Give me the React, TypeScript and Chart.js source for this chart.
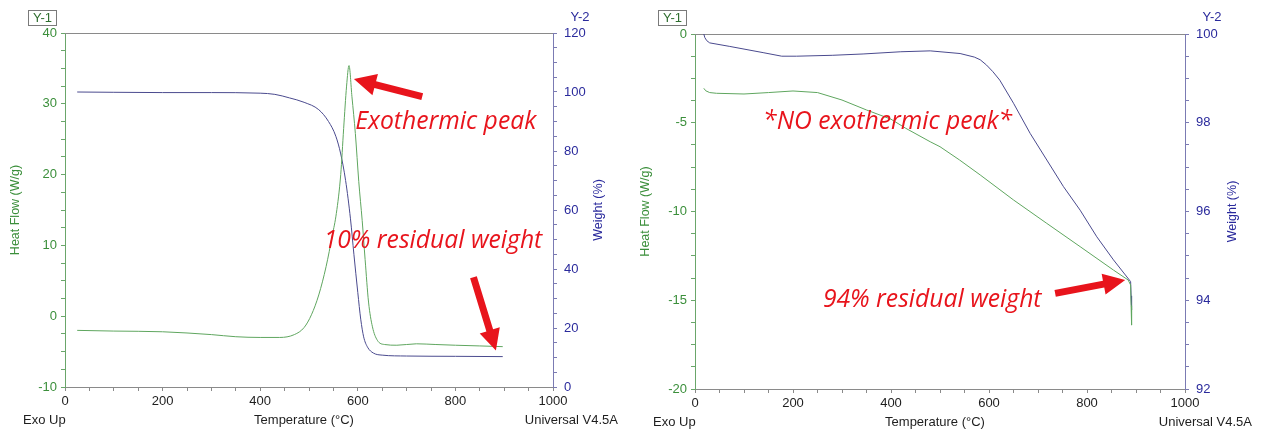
import React, { useEffect, useRef } from "react";
import { Chart, registerables } from "chart.js";

Chart.register(...registerables);

// ---------- Left panel data (sample with exothermic peak) ----------
const leftHeatTemp = [25, 100, 200, 300, 350, 400, 440, 470, 490, 505, 520, 535, 548, 556, 565, 571, 577, 582, 588, 595, 602, 609, 615, 622, 630, 640, 655, 680, 720, 760, 800, 850, 897];
const leftHeatFlow = [-2.0, -2.1, -2.2, -2.6, -2.9, -3.0, -3.0, -2.6, -1.6, 0.2, 3.0, 7.0, 11.5, 14.5, 20.0, 26.5, 32.5, 35.4, 31.0, 25.8, 19.0, 13.5, 8.0, 2.0, -1.5, -3.4, -4.0, -4.1, -3.9, -4.0, -4.1, -4.2, -4.3];
const leftWeightTemp = [25, 100, 200, 300, 400, 430, 460, 490, 520, 540, 555, 565, 575, 585, 592, 600, 606, 612, 620, 632, 650, 700, 800, 897];
const leftWeight = [100, 99.9, 99.8, 99.8, 99.6, 99.2, 98.0, 96.5, 94.0, 90.0, 85.0, 79.0, 70.0, 57.0, 45.0, 32.0, 23.0, 17.0, 13.5, 11.5, 10.8, 10.5, 10.4, 10.3];

// ---------- Right panel data (no exothermic peak) ----------
const rightHeatTemp = [18, 22, 30, 44, 100, 150, 200, 250, 300, 350, 400, 430, 480, 500, 540, 582, 650, 718, 786, 854, 884, 889, 890, 891];
const rightHeatFlow = [-3.06, -3.2, -3.3, -3.34, -3.38, -3.3, -3.21, -3.3, -3.72, -4.28, -4.8, -5.31, -6.07, -6.35, -7.1, -7.94, -9.35, -10.67, -11.98, -13.3, -13.86, -14.14, -15.3, -16.4];
const rightWeightTemp = [18, 20, 24, 30, 71, 139, 177, 207, 280, 343, 420, 480, 541, 570, 582, 595, 608, 622, 650, 684, 718, 752, 786, 820, 854, 889, 890, 891];
const rightWeight = [100, 99.92, 99.85, 99.8, 99.72, 99.58, 99.5, 99.5, 99.52, 99.55, 99.6, 99.62, 99.56, 99.48, 99.42, 99.3, 99.15, 98.96, 98.44, 97.76, 97.16, 96.56, 96.03, 95.43, 94.91, 94.42, 94.1, 93.78];

// ---------- Axis tick settings ----------
const xRange = [0, 1000];
const xStep = 50;
const xMajor = 200;
const leftY1Range = [-10, 40];
const leftY2Range = [0, 120];
const rightY1Range = [-20, 0];
const rightY2Range = [92, 100];

// ---------- Text ----------
const xTitle = "Temperature (°C)";
const y1Title = "Heat Flow (W/g)";
const y2Title = "Weight (%)";

type Note = { text: string; x: number; y: number };
type Arrow = { x1: number; y1: number; x2: number; y2: number; head: number; headW: number; shaft: number };

const leftNotes: Note[] = [
  { text: "Exothermic peak", x: 595, y: 27.5 },
  { text: "10% residual weight", x: 530, y: 10.6 },
];
const leftArrows: Arrow[] = [
  { x1: 732, y1: 31.0, x2: 592, y2: 33.5, head: 22, headW: 22, shaft: 7 },
  { x1: 837, y1: 5.5, x2: 883, y2: -4.84, head: 21, headW: 21, shaft: 7 },
];
const rightNotes: Note[] = [
  { text: "*NO exothermic peak*", x: 139, y: -4.94 },
  { text: "94% residual weight", x: 261, y: -14.99 },
];
const rightArrows: Arrow[] = [
  { x1: 735, y1: -14.61, x2: 878, y2: -13.86, head: 22, headW: 21, shaft: 7 },
];

const GREEN_TEXT = "#3b8f3b";
const BLUE_TEXT = "#2a2a9c";
const GREEN_LINE = "#5fa65f";
const BLUE_LINE = "#4a4a8e";
const GREEN_AXIS = "#6aa66a";
const BLUE_AXIS = "#7b7bb3";
const GRAY_AXIS = "#8a8a8a";
const RED = "#e8141c";
const FONT = "'Liberation Sans', Arial, sans-serif";
const NOTE_FONT = "italic 24.7px 'Open Sans', 'Liberation Sans', sans-serif";

interface PanelSpec {
  id: string;
  width: number;
  height: number;
  area: { left: number; right: number; top: number; bottom: number };
  heatT: number[];
  heat: number[];
  wT: number[];
  w: number[];
  y1Range: number[];
  y1Step: number;
  y1Major: number;
  y2Range: number[];
  y2Step: number;
  y2Major: number;
  notes: Note[];
  arrows: Arrow[];
  footY: number;
  y2x: number;
  y2TitleX: number;
  universalRight: number;
  smooth: boolean;
}

const isMajor = (v: number, m: number) => Math.abs(v / m - Math.round(v / m)) < 1e-6;

function drawArrow(ctx: CanvasRenderingContext2D, x1: number, y1: number, x2: number, y2: number, a: Arrow) {
  const ang = Math.atan2(y2 - y1, x2 - x1);
  const len = Math.hypot(x2 - x1, y2 - y1);
  ctx.save();
  ctx.translate(x1, y1);
  ctx.rotate(ang);
  ctx.beginPath();
  ctx.moveTo(0, -a.shaft / 2);
  ctx.lineTo(len - a.head, -a.shaft / 2);
  ctx.lineTo(len - a.head, -a.headW / 2);
  ctx.lineTo(len, 0);
  ctx.lineTo(len - a.head, a.headW / 2);
  ctx.lineTo(len - a.head, a.shaft / 2);
  ctx.lineTo(0, a.shaft / 2);
  ctx.closePath();
  ctx.fillStyle = RED;
  ctx.fill();
  ctx.restore();
}

function makePlugin(spec: PanelSpec) {
  return {
    id: "decor_" + spec.id,
    beforeDatasetsDraw(chart: any) {
      const { ctx, chartArea } = chart;
      ctx.save();
      ctx.strokeStyle = GRAY_AXIS;
      ctx.lineWidth = 1;
      ctx.beginPath();
      ctx.moveTo(chartArea.left, chartArea.top + 0.5);
      ctx.lineTo(chartArea.right, chartArea.top + 0.5);
      ctx.stroke();
      ctx.restore();
    },
    afterDraw(chart: any) {
      const { ctx, chartArea } = chart;
      const xs = chart.scales.x;
      const ys = chart.scales.y;
      ctx.save();
      for (const a of spec.arrows) {
        drawArrow(ctx, xs.getPixelForValue(a.x1), ys.getPixelForValue(a.y1), xs.getPixelForValue(a.x2), ys.getPixelForValue(a.y2), a);
      }
      ctx.font = NOTE_FONT;
      ctx.fillStyle = RED;
      ctx.textAlign = "left";
      ctx.textBaseline = "middle";
      for (const n of spec.notes) {
        ctx.fillText(n.text, xs.getPixelForValue(n.x), ys.getPixelForValue(n.y));
      }
      // Y-1 box
      ctx.strokeStyle = "#7a7a7a";
      ctx.lineWidth = 1;
      ctx.strokeRect(28.5, 10.5, 28, 15);
      ctx.font = `13px ${FONT}`;
      ctx.fillStyle = "#2f6e2f";
      ctx.textAlign = "center";
      ctx.textBaseline = "middle";
      ctx.fillText("Y-1", 42.5, 18.5);
      // Y-2
      ctx.fillStyle = BLUE_TEXT;
      ctx.fillText("Y-2", spec.y2x, 17.5);
      // footer
      ctx.fillStyle = "#1e1e1e";
      ctx.textAlign = "left";
      ctx.fillText("Exo Up", 23, spec.footY);
      ctx.textAlign = "center";
      ctx.fillText(xTitle, (chartArea.left + chartArea.right) / 2 - 5, spec.footY);
      ctx.textAlign = "right";
      ctx.fillText("Universal V4.5A", spec.universalRight, spec.footY);
      // axis titles
      const cy = (chartArea.top + chartArea.bottom) / 2;
      ctx.font = `12.5px ${FONT}`;
      ctx.textAlign = "center";
      ctx.save();
      ctx.translate(16, cy);
      ctx.rotate(-Math.PI / 2);
      ctx.fillStyle = GREEN_TEXT;
      ctx.fillText(y1Title, 0, 0);
      ctx.restore();
      ctx.save();
      ctx.translate(spec.y2TitleX, cy);
      ctx.rotate(-Math.PI / 2);
      ctx.fillStyle = BLUE_TEXT;
      ctx.fillText(y2Title, 0, 0);
      ctx.restore();
      ctx.restore();
    },
  };
}

function buildConfig(spec: PanelSpec): any {
  const { area, width, height } = spec;
  const heatData = spec.heatT.map((t, i) => ({ x: t, y: spec.heat[i] }));
  const weightData = spec.wT.map((t, i) => ({ x: t, y: spec.w[i] }));
  const interp = spec.smooth ? { cubicInterpolationMode: "monotone" } : { tension: 0 };
  return {
    type: "line",
    data: {
      datasets: [
        {
          label: "Heat Flow",
          data: heatData,
          yAxisID: "y",
          borderColor: GREEN_LINE,
          borderWidth: 1,
          pointRadius: 0,
          fill: false,
          ...interp,
        },
        {
          label: "Weight",
          data: weightData,
          yAxisID: "y2",
          borderColor: BLUE_LINE,
          borderWidth: 1,
          pointRadius: 0,
          fill: false,
          ...interp,
        },
      ],
    },
    options: {
      responsive: false,
      animation: false,
      devicePixelRatio: 1,
      layout: { padding: { top: area.top, left: 0, right: 0, bottom: 0 } },
      plugins: { legend: { display: false }, tooltip: { enabled: false }, title: { display: false } },
      events: [],
      scales: {
        x: {
          type: "linear",
          min: xRange[0],
          max: xRange[1],
          afterFit: (s: any) => {
            s.height = height - area.bottom;
          },
          ticks: {
            stepSize: xStep,
            autoSkip: false,
            maxRotation: 0,
            padding: 3,
            color: "#1e1e1e",
            font: { family: FONT, size: 13 },
            callback: (v: number) => (isMajor(v, xMajor) ? String(v) : ""),
          },
          grid: { drawOnChartArea: false, drawTicks: true, tickLength: 4, color: GRAY_AXIS },
          border: { display: true, color: GRAY_AXIS },
        },
        y: {
          type: "linear",
          position: "left",
          min: spec.y1Range[0],
          max: spec.y1Range[1],
          afterFit: (s: any) => {
            s.width = area.left;
          },
          ticks: {
            stepSize: spec.y1Step,
            autoSkip: false,
            padding: 4,
            color: GREEN_TEXT,
            font: { family: FONT, size: 13 },
            callback: (v: number) => (isMajor(v, spec.y1Major) ? String(v) : ""),
          },
          grid: { drawOnChartArea: false, drawTicks: true, tickLength: 4, color: GREEN_AXIS },
          border: { display: true, color: GREEN_AXIS },
        },
        y2: {
          type: "linear",
          position: "right",
          min: spec.y2Range[0],
          max: spec.y2Range[1],
          afterFit: (s: any) => {
            s.width = width - area.right;
          },
          ticks: {
            stepSize: spec.y2Step,
            autoSkip: false,
            padding: 7,
            color: BLUE_TEXT,
            font: { family: FONT, size: 13 },
            callback: (v: number) => (isMajor(v, spec.y2Major) ? String(v) : ""),
          },
          grid: { drawOnChartArea: false, drawTicks: true, tickLength: 4, color: BLUE_AXIS },
          border: { display: true, color: BLUE_AXIS },
        },
      },
    },
    plugins: [makePlugin(spec)],
  };
}

function Panel({ spec, left }: { spec: PanelSpec; left: number }) {
  const ref = useRef<HTMLCanvasElement | null>(null);
  useEffect(() => {
    if (!ref.current) return;
    const chart = new Chart(ref.current, buildConfig(spec));
    return () => chart.destroy();
  }, [spec]);
  return (
    <canvas
      ref={ref}
      width={spec.width}
      height={spec.height}
      style={{ position: "absolute", left, top: 0, width: spec.width, height: spec.height }}
    />
  );
}

const leftSpec: PanelSpec = {
  id: "left",
  width: 630,
  height: 432,
  area: { left: 65, right: 553, top: 33, bottom: 387 },
  heatT: leftHeatTemp,
  heat: leftHeatFlow,
  wT: leftWeightTemp,
  w: leftWeight,
  y1Range: leftY1Range,
  y1Step: 2.5,
  y1Major: 10,
  y2Range: leftY2Range,
  y2Step: 5,
  y2Major: 20,
  notes: leftNotes,
  arrows: leftArrows,
  footY: 420,
  y2x: 580,
  y2TitleX: 599,
  universalRight: 618,
  smooth: true,
};

const rightSpec: PanelSpec = {
  id: "right",
  width: 631,
  height: 432,
  area: { left: 65, right: 555, top: 34, bottom: 389 },
  heatT: rightHeatTemp,
  heat: rightHeatFlow,
  wT: rightWeightTemp,
  w: rightWeight,
  y1Range: rightY1Range,
  y1Step: 1.25,
  y1Major: 5,
  y2Range: rightY2Range,
  y2Step: 0.5,
  y2Major: 2,
  notes: rightNotes,
  arrows: rightArrows,
  footY: 422,
  y2x: 582,
  y2TitleX: 603,
  universalRight: 622,
  smooth: false,
};

export default function App() {
  return (
    <div style={{ position: "fixed", left: 0, top: 0, width: 1261, height: 432, background: "#ffffff", overflow: "hidden" }}>
      <Panel spec={leftSpec} left={0} />
      <Panel spec={rightSpec} left={630} />
    </div>
  );
}
